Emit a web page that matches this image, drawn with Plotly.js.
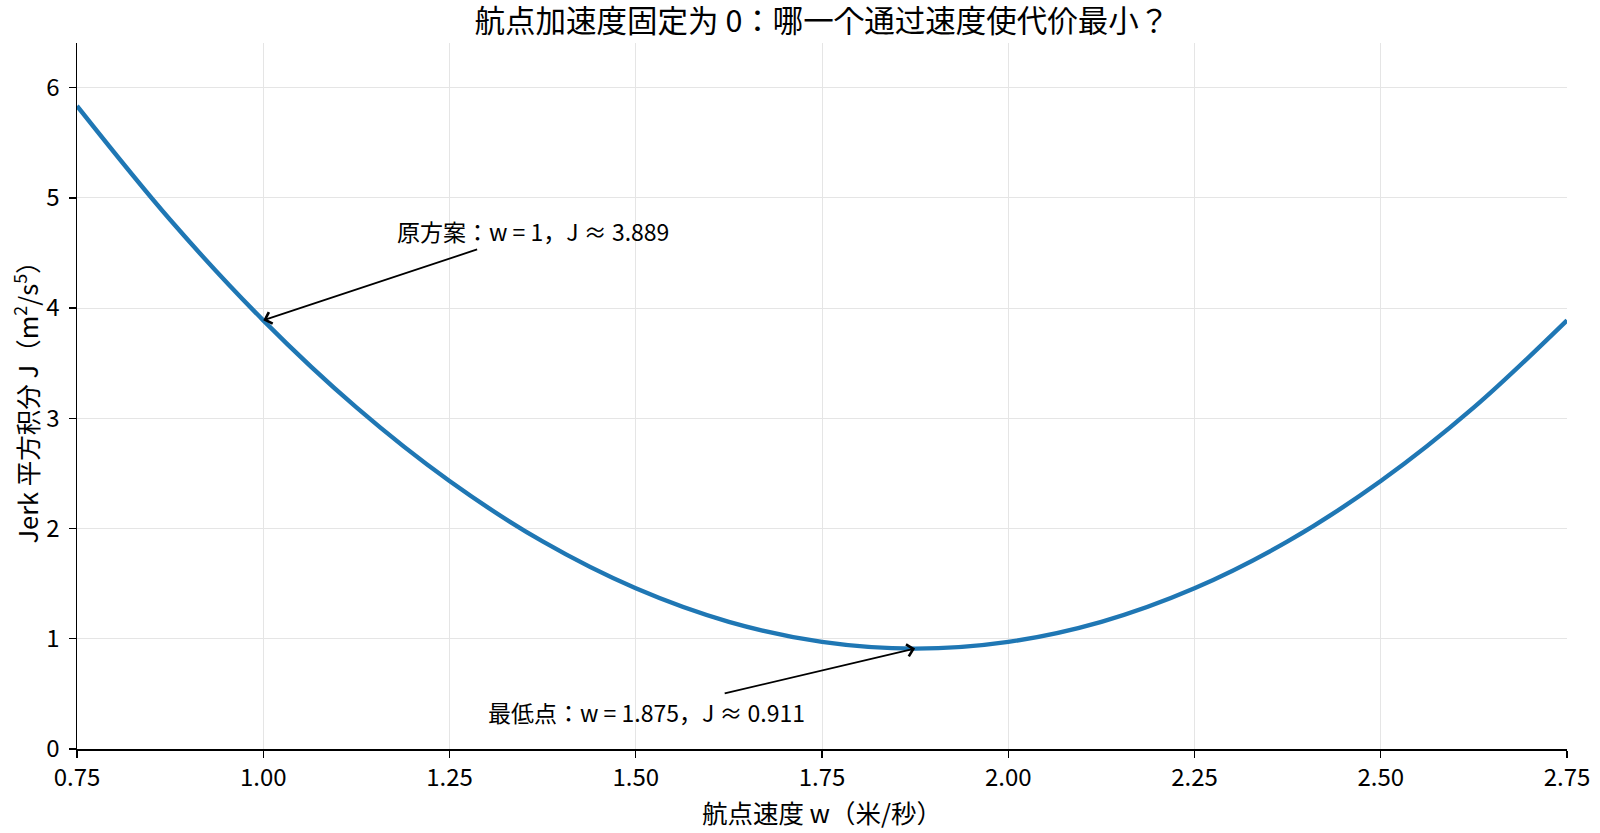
<!DOCTYPE html>
<html>
<head>
<meta charset="utf-8">
<script src="https://cdn.plot.ly/plotly-3.0.1.min.js"></script>
<style>body{margin:0;background:#fff}#chart{width:1600px;height:833px}</style>
</head>
<body>
<div id="chart"></div>
<script>
// waypoint speed w (m/s) and jerk cost J
var speeds = [0.75, 0.875, 1.0, 1.125, 1.25, 1.375, 1.5, 1.625, 1.75, 1.875,
              2.0, 2.125, 2.25, 2.375, 2.5, 2.625, 2.75];
var jerkCost = [5.834, 4.801, 3.889, 3.099, 2.431, 1.883, 1.458, 1.154, 0.972, 0.911,
                0.972, 1.154, 1.458, 1.883, 2.431, 3.099, 3.889];

var xTicks = [0.75, 1.0, 1.25, 1.5, 1.75, 2.0, 2.25, 2.5, 2.75];
var xTickText = ['0.75', '1.00', '1.25', '1.50', '1.75', '2.00', '2.25', '2.50', '2.75'];

var origW = 1.0, origJ = 3.889;
var bestW = 1.875, bestJ = 0.911;

var font = '"Noto Sans CJK JP", "Noto Sans CJK SC", sans-serif';

var data = [{
  x: speeds,
  y: jerkCost,
  type: 'scatter',
  mode: 'lines',
  line: {color: '#1f77b4', width: 4.4, shape: 'spline', smoothing: 1},
  hoverinfo: 'skip'
}];

var layout = {
  width: 1600,
  height: 833,
  margin: {l: 77, r: 33, t: 43, b: 84},
  paper_bgcolor: '#fff',
  plot_bgcolor: '#fff',
  font: {family: font, color: '#000', size: 24},
  showlegend: false,
  title: {text: '航点加速度固定为 0：哪一个通过速度使代价最小？', font: {size: 30.5, family: font},
          xref: 'paper', x: 0.5, xanchor: 'center', y: 0.975, yanchor: 'middle'},
  xaxis: {
    range: [0.75, 2.75],
    tickvals: xTicks,
    ticktext: xTickText,
    ticks: 'outside', ticklen: 7, tickwidth: 1.3, tickcolor: '#000',
    showline: true, linecolor: '#000', linewidth: 1.5,
    showgrid: true, gridcolor: '#e5e5e5', gridwidth: 1,
    zeroline: false,
    tickfont: {size: 24},
    title: {text: '航点速度 w（米/秒）', font: {size: 25.5}, standoff: 5}
  },
  yaxis: {
    range: [0, 6.405],
    tickvals: [0, 1, 2, 3, 4, 5, 6],
    ticks: 'outside', ticklen: 7, tickwidth: 1.3, tickcolor: '#000',
    ticklabelstandoff: 4,
    showline: true, linecolor: '#000', linewidth: 1.5,
    showgrid: true, gridcolor: '#e5e5e5', gridwidth: 1,
    zeroline: false,
    tickfont: {size: 24},
    title: {text: 'Jerk 平方积分 J（m<sup>2</sup>/s<sup>5</sup>）', font: {size: 25.5}, standoff: 0}
  },
  annotations: [
    {
      x: origW, y: origJ, xref: 'x', yref: 'y',
      ax: 1.362, ay: 4.70, axref: 'x', ayref: 'y',
      text: '原方案：w = 1，J ≈ 3.889',
      showarrow: true, arrowhead: 4, arrowsize: 1.3, arrowwidth: 1.8, arrowcolor: '#000',
      font: {size: 23, color: '#000'}
    },
    {
      x: bestW, y: bestJ, xref: 'x', yref: 'y',
      ax: 1.514, ay: 0.336, axref: 'x', ayref: 'y',
      text: '最低点：w = 1.875，J ≈ 0.911',
      showarrow: true, arrowhead: 4, arrowsize: 1.3, arrowwidth: 1.8, arrowcolor: '#000',
      font: {size: 23, color: '#000'}
    }
  ]
};

Plotly.newPlot('chart', data, layout, {displayModeBar: false, staticPlot: true});
</script>
</body>
</html>
